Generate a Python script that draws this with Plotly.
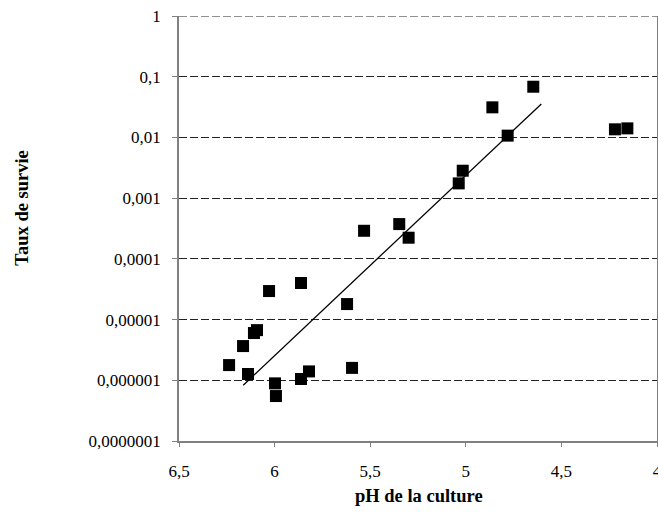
import plotly.graph_objects as go

# Data
ph = [6.238, 6.165, 6.139, 6.108, 6.092, 6.029, 5.998, 5.993, 5.862, 5.862,
      5.820, 5.621, 5.595, 5.532, 5.348, 5.299, 5.037, 5.016, 4.861, 4.781,
      4.647, 4.220, 4.155]
survie = [1.78e-6, 3.66e-6, 1.27e-6, 6.0e-6, 6.7e-6, 2.95e-5, 8.9e-7, 5.5e-7,
          4.0e-5, 1.05e-6, 1.4e-6, 1.8e-5, 1.6e-6, 2.9e-4, 3.74e-4, 2.23e-4,
          1.75e-3, 2.83e-3, 0.0313, 0.0107, 0.0684, 0.0136, 0.0141]

# Exponential trend line end points
trend_ph = [6.164, 4.605]
trend_survie = [8.3e-7, 0.0355]

y_tickvals = [1e-7, 1e-6, 1e-5, 1e-4, 1e-3, 1e-2, 1e-1, 1]
y_ticktext = ["0,0000001", "0,000001", "0,00001", "0,0001", "0,001", "0,01", "0,1", "1"]
x_tickvals = [6.5, 6, 5.5, 5, 4.5, 4]
x_ticktext = ["6,5", "6", "5,5", "5", "4,5", "4"]

x_title = "pH de la culture"
y_title = "Taux de survie"

fig = go.Figure()
fig.add_trace(go.Scatter(
    x=trend_ph, y=trend_survie, mode="lines",
    line=dict(color="black", width=1.3), showlegend=False, hoverinfo="skip"))
fig.add_trace(go.Scatter(
    x=ph, y=survie, mode="markers",
    marker=dict(symbol="square", size=12, color="black", line=dict(width=0)),
    showlegend=False))

serif = "Liberation Serif, Times New Roman, serif"
tick_font = dict(family=serif, size=17, color="black")
title_font = dict(family=serif, size=18.5, color="black")

fig.update_layout(
    width=658, height=514,
    margin=dict(l=179, r=1, t=16, b=73, autoexpand=False),
    paper_bgcolor="white", plot_bgcolor="white",
    font=tick_font,
    xaxis=dict(
        range=[6.5, 4], autorange=False,
        tickvals=x_tickvals, ticktext=x_ticktext, tickfont=tick_font,
        ticks="outside", ticklen=4, tickcolor="#808080",
        showline=True, linecolor="#808080", linewidth=1.5, mirror=False,
        showgrid=False, zeroline=False,
        ticklabelstandoff=10, ticklabeloverflow="allow",
    ),
    yaxis=dict(
        type="log", range=[-7, 0], autorange=False,
        tickvals=y_tickvals, ticktext=y_ticktext, tickfont=tick_font,
        ticks="outside", ticklen=5, tickcolor="#808080",
        showline=True, linecolor="#808080", linewidth=1.5, mirror=True,
        showgrid=True, gridcolor="#222222", gridwidth=1, griddash="8px,3px",
        zeroline=False,
        ticklabelstandoff=8, ticklabeloverflow="allow",
    ),
    shapes=[
        dict(type="line", xref="paper", yref="y", x0=0, x1=1,
             y0=y_tickvals[-1], y1=y_tickvals[-1],
             line=dict(color="#222222", width=1, dash="8px,3px"), layer="above"),
    ],
    annotations=[
        dict(text="<b>" + x_title + "</b>", xref="paper", yref="paper",
             x=0.503, y=-0.129, xanchor="center", yanchor="middle",
             showarrow=False, font=title_font),
        dict(text="<b>" + y_title + "</b>", xref="paper", yref="paper",
             x=-0.3285, y=0.549, xanchor="center", yanchor="middle",
             textangle=-90, showarrow=False, font=title_font),
    ],
)

fig.write_html("out.html", config={"displayModeBar": False},
               post_script="document.body.style.margin='0';document.body.style.overflow='hidden';")
